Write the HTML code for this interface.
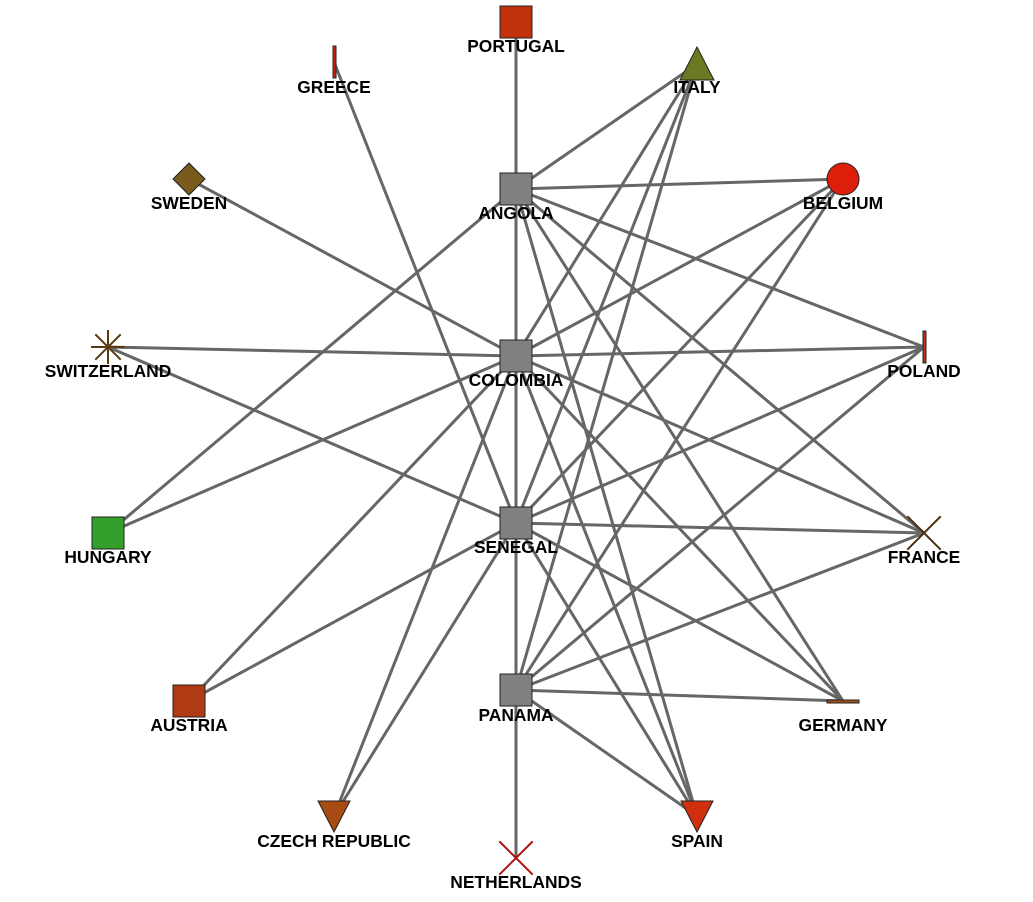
<!DOCTYPE html>
<html><head><style>body{margin:0;background:#fff}svg{display:block}text{font-family:"Liberation Sans",sans-serif;font-weight:bold;font-size:17.4px;text-anchor:middle;fill:#000}</style></head><body>
<svg width="1033" height="902" viewBox="0 0 1033 902">
<g stroke="#666" stroke-width="3" fill="none">
<line x1="516" y1="22" x2="516" y2="858"/>
<line x1="334" y1="62" x2="516" y2="523"/>
<line x1="189" y1="179" x2="516" y2="356"/>
<line x1="697" y1="64" x2="516" y2="189"/><line x1="697" y1="64" x2="516" y2="356"/><line x1="697" y1="64" x2="516" y2="523"/><line x1="697" y1="64" x2="516" y2="690"/>
<line x1="843" y1="179" x2="516" y2="189"/><line x1="843" y1="179" x2="516" y2="356"/><line x1="843" y1="179" x2="516" y2="523"/><line x1="843" y1="179" x2="516" y2="690"/>
<line x1="108" y1="347" x2="516" y2="356"/><line x1="108" y1="347" x2="516" y2="523"/>
<line x1="924" y1="347" x2="516" y2="189"/><line x1="924" y1="347" x2="516" y2="356"/><line x1="924" y1="347" x2="516" y2="523"/><line x1="924" y1="347" x2="516" y2="690"/>
<line x1="108" y1="533" x2="516" y2="189"/><line x1="108" y1="533" x2="516" y2="356"/>
<line x1="924" y1="533" x2="516" y2="189"/><line x1="924" y1="533" x2="516" y2="356"/><line x1="924" y1="533" x2="516" y2="523"/><line x1="924" y1="533" x2="516" y2="690"/>
<line x1="189" y1="701" x2="516" y2="523"/><line x1="189" y1="701" x2="516" y2="356"/>
<line x1="334" y1="816" x2="516" y2="356"/><line x1="334" y1="816" x2="516" y2="523"/>
<line x1="843" y1="701" x2="516" y2="189"/><line x1="843" y1="701" x2="516" y2="356"/><line x1="843" y1="701" x2="516" y2="523"/><line x1="843" y1="701" x2="516" y2="690"/>
<line x1="697" y1="816" x2="516" y2="189"/><line x1="697" y1="816" x2="516" y2="356"/><line x1="697" y1="816" x2="516" y2="523"/><line x1="697" y1="816" x2="516" y2="690"/>
</g>
<g stroke="#222" stroke-width="1">
<rect x="500" y="6" width="32" height="32" fill="#c0320e"/>
<rect x="333" y="46" width="3" height="32" fill="#d02010"/>
<polygon points="697,47 714,80 680,80" fill="#6b7a22"/>
<polygon points="189,163 205,179 189,195 173,179" fill="#7a5a1c"/>
<rect x="500" y="173" width="32" height="32" fill="#808080"/>
<circle cx="843" cy="179" r="16" fill="#dc1e0a"/>
<rect x="500" y="340" width="32" height="32" fill="#808080"/>
<rect x="923" y="331" width="3" height="32" fill="#c03010"/>
<rect x="92" y="517" width="32" height="32" fill="#33a02c"/>
<rect x="500" y="507" width="32" height="32" fill="#808080"/>
<rect x="173" y="685" width="32" height="32" fill="#b03a12"/>
<rect x="500" y="674" width="32" height="32" fill="#808080"/>
<rect x="827" y="700" width="32" height="3" fill="#a05018"/>
<polygon points="318,801 350,801 334,832" fill="#a84a14"/>
<polygon points="681,801 713,801 697,832" fill="#d03010"/>
</g>
<g stroke-width="2" stroke-linecap="square">
<g stroke="#5a3a10"><line x1="92" y1="347" x2="124" y2="347"/><line x1="108" y1="331" x2="108" y2="363"/><line x1="96" y1="335" x2="120" y2="359"/><line x1="120" y1="335" x2="96" y2="359"/></g>
<g stroke="#4a3010"><line x1="908" y1="517" x2="940" y2="549"/><line x1="940" y1="517" x2="908" y2="549"/></g>
<g stroke="#b01010"><line x1="500" y1="842" x2="532" y2="874"/><line x1="532" y1="842" x2="500" y2="874"/></g>
</g>
<text x="516" y="52">PORTUGAL</text>
<text x="334" y="93">GREECE</text>
<text x="697" y="93">ITALY</text>
<text x="189" y="209">SWEDEN</text>
<text x="516" y="219">ANGOLA</text>
<text x="843" y="209">BELGIUM</text>
<text x="108" y="377">SWITZERLAND</text>
<text x="516" y="386">COLOMBIA</text>
<text x="924" y="377">POLAND</text>
<text x="108" y="563">HUNGARY</text>
<text x="516" y="553">SENEGAL</text>
<text x="924" y="563">FRANCE</text>
<text x="189" y="731">AUSTRIA</text>
<text x="516" y="721">PANAMA</text>
<text x="843" y="731">GERMANY</text>
<text x="334" y="847">CZECH REPUBLIC</text>
<text x="697" y="847">SPAIN</text>
<text x="516" y="888">NETHERLANDS</text>
</svg>
</body></html>
